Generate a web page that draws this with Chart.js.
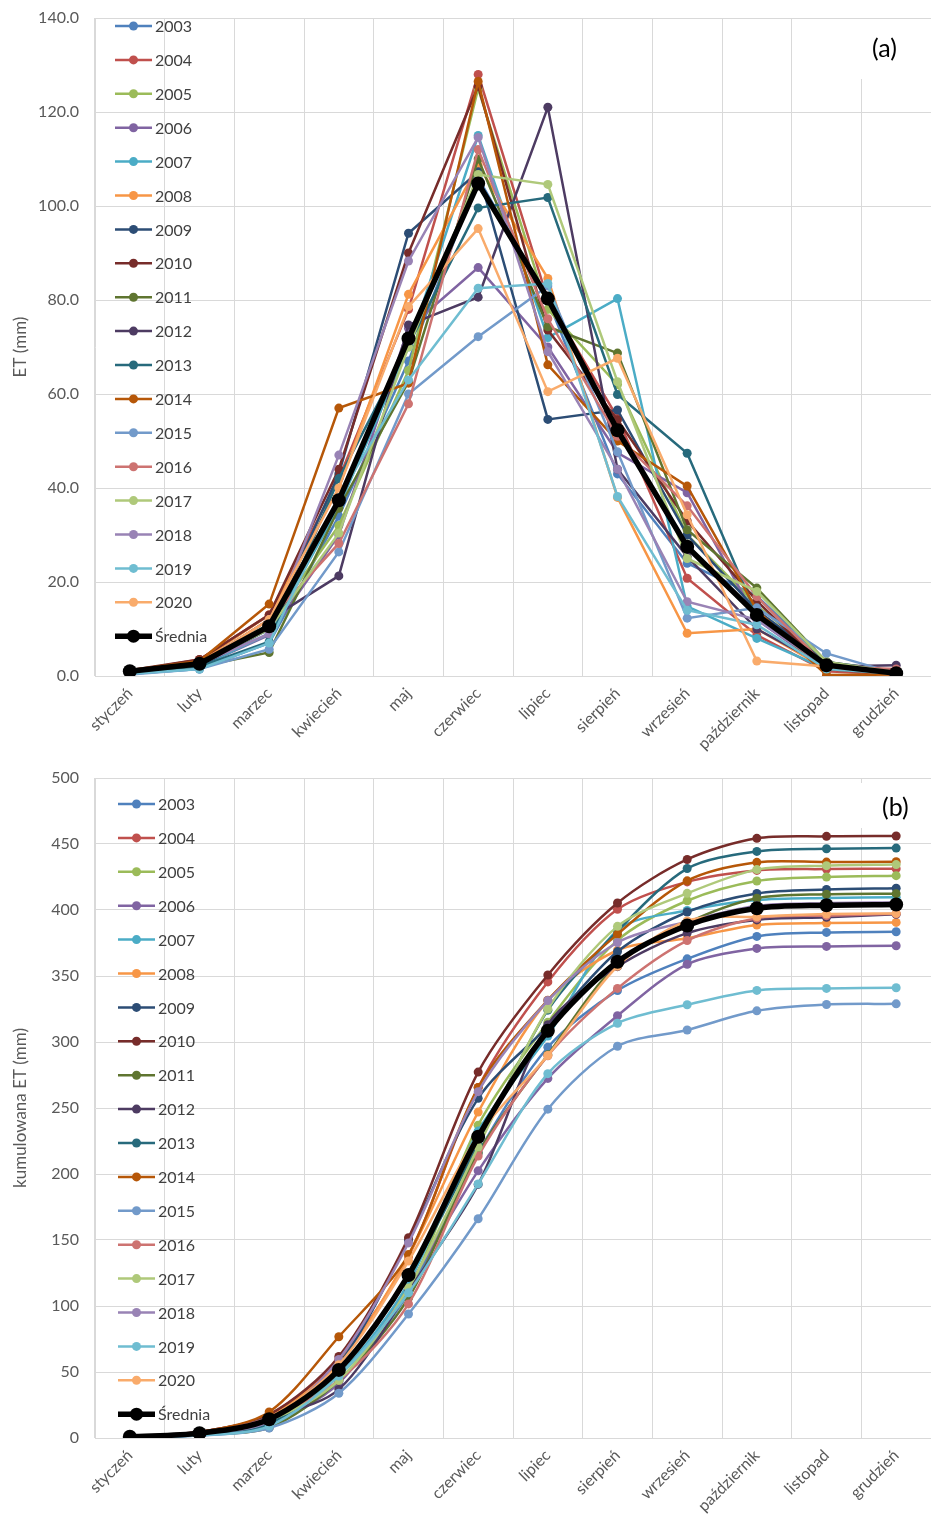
<!DOCTYPE html>
<html>
<head>
<meta charset="utf-8">
<script src="https://cdn.jsdelivr.net/npm/chart.js@4.4.0/dist/chart.umd.min.js"></script>
<style>
  html, body { margin: 0; padding: 0; background: #fff; overflow: hidden; }
  .box { position: relative; width: 938px; height: 762px; }
</style>
</head>
<body>
<div class="box"><canvas id="chartA"></canvas></div>
<div class="box"><canvas id="chartB"></canvas></div>
<script>
// months on the x axis
const months = ['styczeń', 'luty', 'marzec', 'kwiecień', 'maj', 'czerwiec', 'lipiec',
  'sierpień', 'wrzesień', 'październik', 'listopad', 'grudzień'];
const seriesNames = ['2003', '2004', '2005', '2006', '2007', '2008', '2009', '2010', '2011',
  '2012', '2013', '2014', '2015', '2016', '2017', '2018', '2019', '2020', 'Średnia'];

// (a) monthly ET (mm)
const et2003 = [0.5, 1.5, 7.0, 34.0, 67.0, 106.0, 80.0, 43.0, 24.0, 17.0, 3.0, 0.5];
const et2004 = [1.0, 3.5, 13.0, 42.0, 78.0, 128.0, 80.0, 55.0, 20.8, 8.7, 1.0, 0.3];
const et2005 = [1.0, 3.0, 11.0, 32.0, 65.0, 125.0, 78.0, 62.0, 30.0, 15.0, 3.0, 1.0];
const et2006 = [0.8, 2.0, 8.7, 30.0, 74.0, 86.9, 70.0, 47.5, 39.0, 12.0, 1.5, 0.5];
const et2007 = [0.5, 2.0, 9.0, 36.0, 70.0, 115.0, 72.0, 80.3, 14.8, 8.0, 1.5, 0.5];
const et2008 = [1.0, 3.0, 13.0, 40.0, 81.2, 108.7, 84.6, 38.0, 9.1, 10.0, 1.5, 0.5];
const et2009 = [0.8, 2.0, 10.0, 43.0, 94.2, 107.3, 54.6, 56.6, 30.0, 14.0, 3.0, 1.0];
const et2010 = [1.2, 3.5, 13.0, 44.0, 90.0, 125.5, 73.6, 54.5, 33.0, 16.0, 1.5, 0.3];
const et2011 = [0.8, 2.0, 5.0, 35.7, 62.6, 110.0, 74.3, 68.7, 31.1, 18.7, 3.0, 0.5];
const et2012 = [1.0, 2.5, 12.0, 21.3, 74.7, 80.6, 121.0, 44.0, 25.4, 10.0, 2.0, 2.3];
const et2013 = [1.0, 2.0, 7.3, 42.0, 70.4, 99.6, 101.8, 59.9, 47.4, 13.0, 2.0, 0.5];
const et2014 = [1.2, 3.2, 15.3, 57.0, 62.3, 126.5, 66.2, 50.0, 40.4, 14.0, 0.2, 0.3];
const et2015 = [0.3, 1.5, 5.7, 26.4, 60.0, 72.2, 83.0, 47.7, 12.3, 14.5, 4.8, 0.5];
const et2016 = [1.0, 2.5, 12.0, 28.2, 57.9, 112.0, 76.0, 51.0, 36.2, 16.9, 2.0, 1.5];
const et2017 = [0.8, 2.5, 10.0, 30.4, 70.0, 106.7, 104.6, 62.6, 25.0, 18.0, 3.0, 0.8];
const et2018 = [1.0, 2.5, 9.0, 47.0, 88.3, 114.6, 69.0, 44.0, 15.8, 12.0, 2.0, 0.5];
const et2019 = [0.5, 1.5, 7.0, 38.0, 63.0, 82.5, 83.5, 38.2, 14.0, 10.9, 1.5, 0.5];
const et2020 = [1.0, 2.5, 12.0, 40.0, 78.6, 95.2, 60.5, 67.6, 34.3, 3.2, 2.0, 0.5];
const etMean = [1.0, 2.6, 10.6, 37.4, 71.8, 104.8, 80.3, 52.3, 27.5, 13.0, 2.3, 0.6];

// (b) cumulative ET (mm)
const cum2003 = [0.5, 2.0, 9.0, 43.0, 110.0, 216.0, 296.0, 339.0, 363.0, 380.0, 383.0, 383.5];
const cum2004 = [1.0, 4.5, 17.5, 59.5, 137.5, 265.5, 345.5, 400.5, 421.3, 430.0, 431.0, 431.3];
const cum2005 = [1.0, 4.0, 15.0, 47.0, 112.0, 237.0, 315.0, 377.0, 407.0, 422.0, 425.0, 426.0];
const cum2006 = [0.8, 2.8, 11.5, 41.5, 115.5, 202.4, 272.4, 319.9, 358.9, 370.9, 372.4, 372.9];
const cum2007 = [0.5, 2.5, 11.5, 47.5, 117.5, 232.5, 304.5, 384.8, 399.6, 407.6, 409.1, 409.6];
const cum2008 = [1.0, 4.0, 17.0, 57.0, 138.2, 246.9, 331.5, 369.5, 378.6, 388.6, 390.1, 390.6];
const cum2009 = [0.8, 2.8, 12.8, 55.8, 150.0, 257.3, 311.9, 368.5, 398.5, 412.5, 415.5, 416.5];
const cum2010 = [1.2, 4.7, 17.7, 61.7, 151.7, 277.2, 350.8, 405.3, 438.3, 454.3, 455.8, 456.1];
const cum2011 = [0.8, 2.8, 7.8, 43.5, 106.1, 216.1, 290.4, 359.1, 390.2, 408.9, 411.9, 412.4];
const cum2012 = [1.0, 3.5, 15.5, 36.8, 111.5, 192.1, 313.1, 357.1, 382.5, 392.5, 394.5, 396.8];
const cum2013 = [1.0, 3.0, 10.3, 52.3, 122.7, 222.3, 324.1, 384.0, 431.4, 444.4, 446.4, 446.9];
const cum2014 = [1.2, 4.4, 19.7, 76.7, 139.0, 265.5, 331.7, 381.7, 422.1, 436.1, 436.3, 436.6];
const cum2015 = [0.3, 1.8, 7.5, 33.9, 93.9, 166.1, 249.1, 296.8, 309.1, 323.6, 328.4, 328.9];
const cum2016 = [1.0, 3.5, 15.5, 43.7, 101.6, 213.6, 289.6, 340.6, 376.8, 393.7, 395.7, 397.2];
const cum2017 = [0.8, 3.3, 13.3, 43.7, 113.7, 220.4, 325.0, 387.6, 412.6, 430.6, 433.6, 434.4];
const cum2018 = [1.0, 3.5, 12.5, 59.5, 147.8, 262.4, 331.4, 375.4, 391.2, 403.2, 405.2, 405.7];
const cum2019 = [0.5, 2.0, 9.0, 47.0, 110.0, 192.5, 276.0, 314.2, 328.2, 339.1, 340.6, 341.1];
const cum2020 = [1.0, 3.5, 15.5, 55.5, 134.1, 229.3, 289.8, 357.4, 391.7, 394.9, 396.9, 397.4];
const cumMean = [1.0, 3.6, 14.2, 51.6, 123.4, 228.2, 308.5, 360.8, 388.3, 401.3, 403.6, 404.2];

const monthlySeries = [et2003, et2004, et2005, et2006, et2007, et2008, et2009, et2010, et2011,
  et2012, et2013, et2014, et2015, et2016, et2017, et2018, et2019, et2020, etMean];
const cumulSeries = [cum2003, cum2004, cum2005, cum2006, cum2007, cum2008, cum2009, cum2010, cum2011,
  cum2012, cum2013, cum2014, cum2015, cum2016, cum2017, cum2018, cum2019, cum2020, cumMean];

const colors = ['#4f81bd', '#c0504d', '#9bbb59', '#8064a2', '#4bacc6', '#f79646',
  '#2c4d75', '#772c2a', '#5f7530', '#4d3b62', '#276a7c', '#b65708',
  '#729aca', '#cd7371', '#afc97a', '#9983b5', '#6fbdd1', '#f9ab6b', '#000000'];

const FONT = 'Lato, "Open Sans", sans-serif';

// legend + panel tag drawn inside the plot area
const panelDecor = {
  id: 'panelDecor',
  beforeDatasetsDraw(chart, args, opts) {
    const ctx = chart.ctx;
    ctx.save();
    ctx.fillStyle = '#fff';
    ctx.fillRect(opts.tagBox[0], opts.tagBox[1], opts.tagBox[2], opts.tagBox[3]);
    ctx.fillStyle = '#000';
    ctx.font = '25px ' + FONT;
    ctx.textAlign = 'left';
    ctx.textBaseline = 'middle';
    ctx.fillText(opts.tag, opts.tagX, opts.tagY);

    chart.data.datasets.forEach((ds, i) => {
      const y = opts.legendY + i * opts.legendStep;
      const x = opts.legendX;
      const avg = i === chart.data.datasets.length - 1;
      ctx.strokeStyle = ds.borderColor;
      ctx.lineWidth = avg ? 5.5 : 2.5;
      ctx.beginPath();
      ctx.moveTo(x, y);
      ctx.lineTo(x + 37, y);
      ctx.stroke();
      ctx.fillStyle = ds.borderColor;
      ctx.beginPath();
      ctx.arc(x + 18.5, y, avg ? 6.5 : 4.5, 0, Math.PI * 2);
      ctx.fill();
      ctx.fillStyle = '#404040';
      ctx.font = '16px ' + FONT;
      ctx.fillText(ds.label, x + 40, y + 1);
    });
    ctx.restore();
  }
};

function buildDatasets(list, tension) {
  return list.map((data, i) => {
    const avg = i === list.length - 1;
    return {
      label: seriesNames[i],
      data: data,
      borderColor: colors[i],
      backgroundColor: colors[i],
      pointBackgroundColor: colors[i],
      pointBorderWidth: 0,
      pointRadius: avg ? 7 : 4.5,
      borderWidth: avg ? 5.5 : 2.5,
      tension: tension,
      order: avg ? -100 : -i
    };
  });
}

function makeChart(id, list, cfg) {
  const ctx = document.getElementById(id).getContext('2d');
  return new Chart(ctx, {
    type: 'line',
    data: { labels: months, datasets: buildDatasets(list, cfg.tension) },
    options: {
      responsive: true,
      maintainAspectRatio: false,
      animation: false,
      layout: { padding: { top: cfg.top, right: 0, left: 0, bottom: 0 } },
      plugins: {
        legend: { display: false },
        tooltip: { enabled: false },
        panelDecor: cfg.decor
      },
      scales: {
        x: {
          offset: true,
          grid: { offset: true, color: '#d9d9d9', drawTicks: false },
          border: { color: '#d9d9d9' },
          ticks: {
            minRotation: 45, maxRotation: 45, padding: 8,
            color: '#595959', font: { family: FONT, size: 16 }
          },
          afterFit: s => { s.height = 86; }
        },
        y: {
          min: 0, max: cfg.max,
          grid: { color: '#d9d9d9', drawTicks: false },
          border: { color: '#d9d9d9' },
          ticks: {
            stepSize: cfg.step, padding: 16,
            color: '#595959', font: { family: FONT, size: 16 },
            callback: cfg.fmt
          },
          title: {
            display: true, text: cfg.title, color: '#595959',
            font: { family: FONT, size: 17 }, padding: { top: 10, bottom: 0 }
          },
          afterFit: s => { s.width = 95; s.paddingTop = 0; s.paddingBottom = 0; }
        }
      }
    },
    plugins: [panelDecor]
  });
}

document.addEventListener('DOMContentLoaded', function() {
  // (a) monthly ET
  makeChart('chartA', monthlySeries, {
    tension: 0, top: 18, max: 140, step: 20, title: 'ET (mm)',
    fmt: v => v.toFixed(1),
    decor: { tag: '(a)', tagX: 872, tagY: 49, tagBox: [857, 19, 81, 60],
      legendX: 115, legendY: 26, legendStep: 33.9 }
  });

  // (b) cumulative ET
  makeChart('chartB', cumulSeries, {
    tension: 0.3, top: 16, max: 500, step: 50, title: 'kumulowana ET (mm)',
    fmt: v => v,
    decor: { tag: '(b)', tagX: 882, tagY: 46, tagBox: [857, 21, 81, 45],
      legendX: 118, legendY: 42, legendStep: 33.9 }
  });
});
</script>
</body>
</html>
